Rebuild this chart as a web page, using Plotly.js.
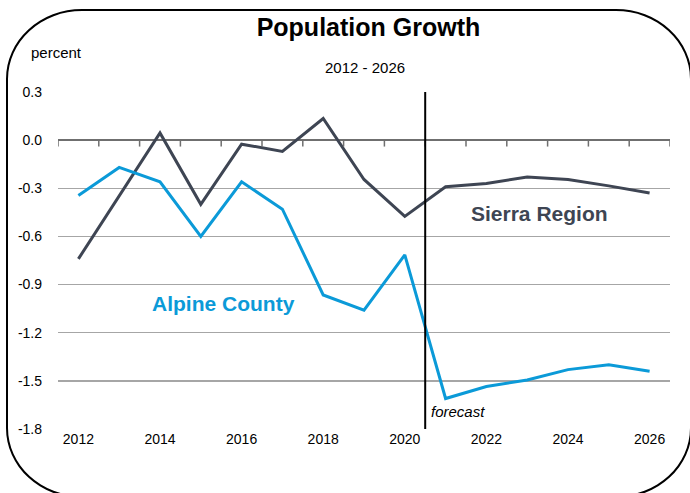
<!DOCTYPE html>
<html>
<head>
<meta charset="utf-8">
<script src="https://cdn.plot.ly/plotly-3.0.1.min.js"></script>
<style>
  body { margin: 0; background: #fff; }
  #frame {
    position: absolute; left: 6px; top: 9px; width: 686px; height: 489px;
    border: 2px solid #000; border-radius: 76px / 70px; box-sizing: border-box;
  }
  #chart { position: absolute; left: 0; top: 0; width: 690px; height: 493px; }
</style>
</head>
<body>
<div id="frame"></div>
<div id="chart"></div>
<script>
const years = [2012, 2013, 2014, 2015, 2016, 2017, 2018, 2019, 2020, 2021, 2022, 2023, 2024, 2025, 2026];
const sierraRegion = [-0.74, -0.35, 0.045, -0.40, -0.025, -0.07, 0.135, -0.245, -0.475, -0.29, -0.27, -0.23, -0.245, -0.285, -0.33];
const alpineCounty = [-0.345, -0.17, -0.26, -0.60, -0.26, -0.43, -0.965, -1.06, -0.715, -1.61, -1.535, -1.495, -1.43, -1.40, -1.44];
const yTicks = [0.3, 0.0, -0.3, -0.6, -0.9, -1.2, -1.5, -1.8];
const xLabels = [2012, 2014, 2016, 2018, 2020, 2022, 2024, 2026];
const forecastStart = 2020.5;

const darkColor = '#3e4553';
const blueColor = '#0b9ad8';
const axisGray = '#6f6f6f';

// tick marks between years, hanging below the zero line (0.04 of the value span ~ 6px)
const boundaries = years.map(y => y - 0.5).concat([years[years.length - 1] + 0.5]);
const tickShapes = boundaries.map(b => ({
    type: 'line', xref: 'x', yref: 'y',
    x0: b, x1: b, y0: 0, y1: -0.04,
    line: { color: axisGray, width: 1.5 }
}));

const traces = [
    {
        x: years, y: sierraRegion, type: 'scatter', mode: 'lines',
        line: { color: darkColor, width: 3 }, hoverinfo: 'skip'
    },
    {
        x: years, y: alpineCounty, type: 'scatter', mode: 'lines',
        line: { color: blueColor, width: 3 }, hoverinfo: 'skip'
    }
];

const layout = {
    width: 690, height: 493,
    paper_bgcolor: 'rgba(0,0,0,0)', plot_bgcolor: 'rgba(0,0,0,0)',
    showlegend: false,
    margin: { t: 92, b: 64, l: 58, r: 20 },
    font: { family: 'Liberation Sans, Arial, sans-serif', color: '#000' },
    title: {
        text: '<b>Population Growth</b>',
        font: { size: 25, color: '#000' },
        x: 0.534, xanchor: 'center', y: 0.945, yanchor: 'middle'
    },
    xaxis: {
        range: [2011.5, 2026.5],
        tickmode: 'array', tickvals: xLabels, ticktext: xLabels.map(String),
        showgrid: false, zeroline: false, showline: false, ticks: '',
        tickfont: { size: 14, color: '#000' }
    },
    yaxis: {
        range: [-1.8, 0.3],
        tickvals: yTicks, ticktext: yTicks.map(v => v.toFixed(1)),
        showgrid: true, gridcolor: '#a6a6a6', gridwidth: 1.5,
        zeroline: true, zerolinecolor: axisGray, zerolinewidth: 1.5,
        showline: false, ticks: '', ticklabelstandoff: 15,
        tickfont: { size: 14, color: '#000' }
    },
    shapes: tickShapes.concat([
        {
            type: 'line', xref: 'x', yref: 'y',
            x0: forecastStart, x1: forecastStart, y0: 0.3, y1: -1.8,
            line: { color: '#000', width: 2 }
        }
    ]),
    annotations: [
        {
            text: '2012 - 2026', xref: 'paper', yref: 'paper',
            x: 0.502, y: 1, yshift: 25, showarrow: false,
            font: { size: 15, color: '#000' }, xanchor: 'center', yanchor: 'middle'
        },
        {
            text: 'percent', xref: 'paper', yref: 'paper',
            x: 0, xshift: -29, y: 1, yshift: 40, showarrow: false,
            font: { size: 15, color: '#000' }, xanchor: 'left', yanchor: 'middle'
        },
        {
            text: '<b>Sierra Region</b>', xref: 'x', yref: 'y',
            x: 2023.3, y: -0.455, showarrow: false,
            font: { size: 21, color: darkColor }, xanchor: 'center', yanchor: 'middle'
        },
        {
            text: '<b>Alpine County</b>', xref: 'x', yref: 'y',
            x: 2015.55, y: -1.015, showarrow: false,
            font: { size: 21, color: blueColor }, xanchor: 'center', yanchor: 'middle'
        },
        {
            text: '<i>forecast</i>', xref: 'x', yref: 'y',
            x: forecastStart, xshift: 4, y: -1.69, showarrow: false,
            font: { size: 15, color: '#000' }, xanchor: 'left', yanchor: 'middle'
        }
    ]
};

Plotly.newPlot('chart', traces, layout, { displayModeBar: false, staticPlot: true });
</script>
</body>
</html>
